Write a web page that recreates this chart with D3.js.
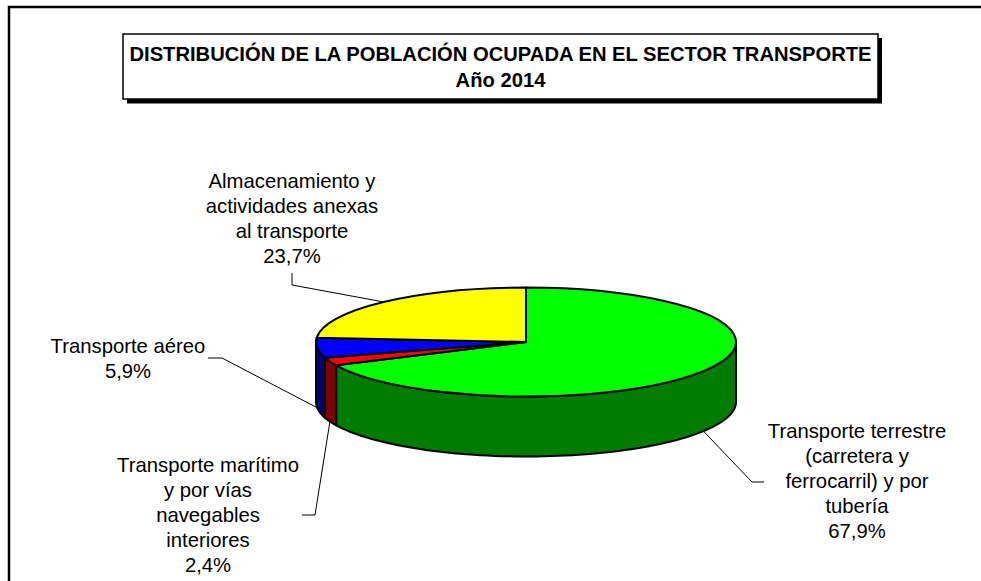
<!DOCTYPE html>
<html>
<head>
<meta charset="utf-8">
<script src="https://cdn.jsdelivr.net/npm/d3@7"></script>
<style>
  html, body { margin: 0; padding: 0; background: #fff; overflow: hidden; }
  text { font-family: "Liberation Sans", Arial, sans-serif; fill: #000; }
</style>
</head>
<body>
<div id="chart"></div>
<script>
// values as printed on the chart, clockwise from 12 o'clock
const categories = [
    "Transporte terrestre (carretera y ferrocarril) y por tubería",
    "Transporte marítimo y por vías navegables interiores",
    "Transporte aéreo",
    "Almacenamiento y actividades anexas al transporte"
]
const shares = [67.9, 2.4, 5.9, 23.7]
const shareLabels = ["67,9%", "2,4%", "5,9%", "23,7%"]
const labelLines = [
    ["Transporte terrestre", "(carretera y", "ferrocarril) y por", "tubería"],
    ["Transporte marítimo", "y por vías", "navegables", "interiores"],
    ["Transporte aéreo"],
    ["Almacenamiento y", "actividades anexas", "al transporte"]
]
const topColors = ["#00ff00", "#ff0000", "#0000ff", "#ffff00"]
const wallColors = ["#007c00", "#7c0000", "#00007c", "#7c7c00"]
const titleLines = ["DISTRIBUCIÓN DE LA POBLACIÓN OCUPADA EN EL SECTOR TRANSPORTE", "Año 2014"]

// layout, not data
const width = 981
const height = 581
const pieBox = { cx: 526, cy: 342, rx: 210, ry: 54.5, depth: 60 }
const lineHeight = 25
// label centre + first baseline, and the elbow of each leader
const labelLayout = [
    { x: 857, y: 438, elbow: [[764, 482], [752, 482]], wall: true },
    { x: 208, y: 472, elbow: [[302, 515], [315, 515]], wall: true },
    { x: 128, y: 353, elbow: [[208, 358], [222, 358]], wall: true },
    { x: 292, y: 188, elbow: [[292, 273], [292, 285]], wall: false }
]

const svg = d3.select("#chart")
    .append("svg")
    .attr("width", width)
    .attr("height", height)

// outer frame, runs off the right and the bottom of the picture
svg.append("path")
    .attr("d", d3.line()([[9, height], [9, 7], [width, 7]]))
    .attr("fill", "none")
    .attr("stroke", "#000")
    .attr("stroke-width", 2.5)

// title box with its shadow
svg.append("rect")
    .attr("x", 127).attr("y", 38)
    .attr("width", 755).attr("height", 65.5)
    .attr("fill", "#000")
svg.append("rect")
    .attr("x", 123).attr("y", 34)
    .attr("width", 755).attr("height", 65)
    .attr("fill", "#fff")
    .attr("stroke", "#000")
    .attr("stroke-width", 1.5)

svg.selectAll(".title")
    .data(titleLines)
    .enter().append("text")
    .attr("class", "title")
    .attr("x", 500.5)
    .attr("y", (d, i) => 61 + i * 25.5)
    .attr("text-anchor", "middle")
    .attr("font-size", 20.2)
    .attr("font-weight", "bold")
    .text(d => d)

const pie = d3.pie().sort(null).value(d => d)
const slices = pie(shares)

// angle is clockwise from the top, same as d3.pie
function project(angle, drop) {
    return [
        pieBox.cx + pieBox.rx * Math.sin(angle),
        pieBox.cy - pieBox.ry * Math.cos(angle) + drop
    ]
}

const line = d3.line()

// walls: only the part of a slice that faces us, 90 to 270 degrees
function wallPath(slice) {
    const a0 = Math.max(slice.startAngle, Math.PI / 2)
    const a1 = Math.min(slice.endAngle, Math.PI * 1.5)
    if (a1 <= a0) return null
    const angles = d3.range(0, 81).map(i => a0 + (a1 - a0) * i / 80)
    const lower = angles.map(a => project(a, pieBox.depth))
    const upper = angles.slice().reverse().map(a => project(a, 0))
    return line(lower.concat(upper)) + "Z"
}

svg.selectAll(".wall")
    .data(slices)
    .enter().append("path")
    .attr("class", "wall")
    .attr("d", wallPath)
    .attr("fill", (d, i) => wallColors[i])
    .attr("stroke", "#000")
    .attr("stroke-width", 2)
    .attr("stroke-linejoin", "round")

// top face: a flat d3.arc squashed into an ellipse
const arc = d3.arc().innerRadius(0).outerRadius(pieBox.rx)

svg.append("g")
    .attr("transform", `translate(${pieBox.cx}, ${pieBox.cy}) scale(1, ${pieBox.ry / pieBox.rx})`)
    .selectAll(".slice")
    .data(slices)
    .enter().append("path")
    .attr("class", "slice")
    .attr("d", arc)
    .attr("fill", (d, i) => topColors[i])
    .attr("stroke", "#000")
    .attr("stroke-width", 2)
    .attr("stroke-linejoin", "round")
    .attr("vector-effect", "non-scaling-stroke")

// leaders end on the rim at the middle of the slice
svg.selectAll(".leader")
    .data(slices)
    .enter().append("path")
    .attr("class", "leader")
    .attr("d", (d, i) => {
        const mid = (d.startAngle + d.endAngle) / 2
        const spot = labelLayout[i]
        return line(spot.elbow.concat([project(mid, spot.wall ? pieBox.depth : 0)]))
    })
    .attr("fill", "none")
    .attr("stroke", "#000")
    .attr("stroke-width", 1)

const labels = svg.selectAll(".label")
    .data(categories)
    .enter().append("text")
    .attr("class", "label")
    .attr("text-anchor", "middle")
    .attr("font-size", 20.3)

labels.each(function (d, i) {
    const spot = labelLayout[i]
    d3.select(this).selectAll("tspan")
        .data(labelLines[i].concat([shareLabels[i]]))
        .enter().append("tspan")
        .attr("x", spot.x)
        .attr("y", (t, j) => spot.y + j * lineHeight)
        .text(t => t)
})
</script>
</body>
</html>
